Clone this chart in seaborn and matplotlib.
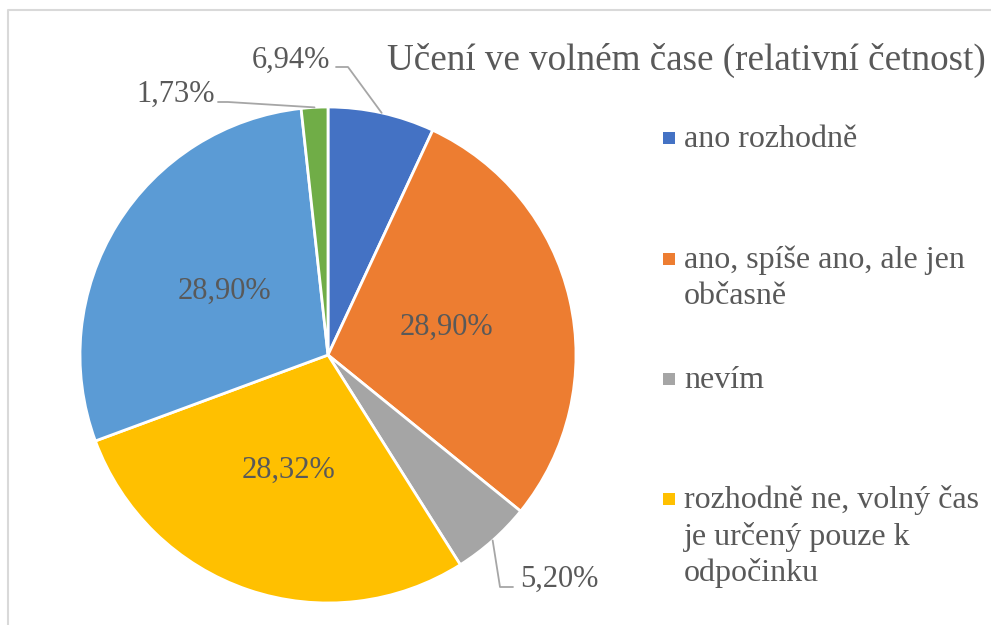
import numpy as np
import matplotlib.pyplot as plt
import seaborn as sns

sns.set_theme(style='white')
plt.rcParams['font.family'] = ['Liberation Serif', 'DejaVu Serif']

# data
categories = ['ano rozhodně', 'ano, spíše ano, ale jen občasně', 'nevím',
              'rozhodně ne, volný čas je určený pouze k odpočinku',
              'spíše ne', 'ne']
values = [6.94, 28.90, 5.20, 28.32, 28.90, 1.73]
legend_labels = ['ano rozhodně', 'ano, spíše ano, ale jen\nobčasně', 'nevím',
                 'rozhodně ne, volný čas\nje určený pouze k\nodpočinku']
title = 'Učení ve volném čase (relativní četnost)'
colors = sns.color_palette(['#4472C4', '#ED7D31', '#A5A5A5', '#FFC000', '#5B9BD5', '#70AD47'])

W, H = 991, 625
txt_col = '#595959'
fs = 22

fig = plt.figure(figsize=(W / 100, H / 100), dpi=100)
ax = fig.add_axes([0, 0, 1, 1])

cx, cy, R = 328, H - 355, 248
wedges, _ = ax.pie(values, colors=colors, startangle=90, counterclock=False,
                   center=(cx, cy), radius=R, frame=True,
                   wedgeprops=dict(edgecolor='white', linewidth=2))
ax.set_xlim(0, W)
ax.set_ylim(0, H)
ax.axis('off')

# outer label layout (pixel coords from top): text baseline anchor, ha, leader start, elbow
outer = {
    0: dict(pos=(330, 68), ha='right', start=(336, 67), elbow=(348, 67)),
    5: dict(pos=(215, 102), ha='right', start=(218, 102), elbow=(228, 102)),
    2: dict(pos=(520, 587), ha='left', start=(513, 587), elbow=(500, 587)),
}

for i, (w, v) in enumerate(zip(wedges, values)):
    mid = np.deg2rad((w.theta1 + w.theta2) / 2)
    label = f'{v:.2f}%'.replace('.', ',')
    if i in outer:
        o = outer[i]
        ex, ey = cx + R * np.cos(mid), cy + R * np.sin(mid)
        xs = [o['start'][0], o['elbow'][0], ex]
        ys = [H - o['start'][1], H - o['elbow'][1], ey]
        ax.plot(xs, ys, color='#A6A6A6', lw=1.3)
        ax.text(o['pos'][0], H - o['pos'][1], label, ha=o['ha'], va='baseline',
                fontsize=fs, color=txt_col)
    else:
        ax.text(cx + 0.49 * R * np.cos(mid), cy + 0.49 * R * np.sin(mid), label,
                ha='center', va='center', fontsize=fs, color=txt_col)

# title
ax.text(387, H - 70, title, ha='left', va='baseline', fontsize=26.7, color=txt_col)

# legend
base = [147, 268, 388, 508]
for i, lab in enumerate(legend_labels):
    b = base[i]
    ax.add_patch(plt.Rectangle((663, H - b + 3), 12, 12, color=colors[i], lw=0))
    for k, line in enumerate(lab.split('\n')):
        ax.text(684, H - b - 36.5 * k, line, ha='left', va='baseline',
                fontsize=23, color=txt_col)

# chart area border (cropped)
ax.plot([8, 8, W], [0, H - 10, H - 10], color='#D9D9D9', lw=1.5)

fig.savefig('out.png', dpi=100)
